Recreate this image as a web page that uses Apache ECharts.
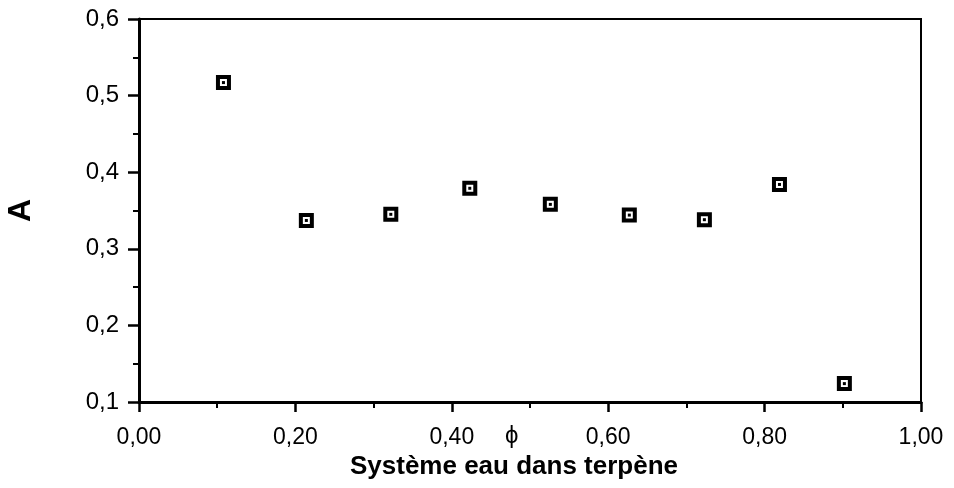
<!DOCTYPE html>
<html>
<head>
<meta charset="utf-8">
<script src="https://cdn.jsdelivr.net/npm/echarts@6/dist/echarts.min.js"></script>
<style>
  html, body { margin: 0; padding: 0; background: #fff; }
  #chart { width: 954px; height: 488px; }
</style>
</head>
<body>
<div id="chart"></div>
<script>
// phi (water fraction) and A values
var phiValues = [0.108, 0.214, 0.322, 0.423, 0.526, 0.627, 0.723, 0.819, 0.902];
var aValues = [0.517, 0.337, 0.345, 0.379, 0.358, 0.344, 0.338, 0.384, 0.124];
var xTitle = 'Système eau dans terpène';
var yTitle = 'A';

var points = phiValues.map(function (x, i) { return [x, aValues[i]]; });

var mychart = echarts.init(document.getElementById('chart'));
var font = 'Liberation Sans';

var option = {
  animation: false,
  grid: {
    left: 139, right: 33, top: 19, bottom: 86,
    outerBoundsMode: 'none', containLabel: false,
    show: true, borderColor: '#000', borderWidth: 2
  },
  xAxis: {
    type: 'value', min: 0, max: 1, interval: 0.2,
    name: xTitle, nameLocation: 'middle', nameGap: 40,
    nameTextStyle: {
      fontFamily: font, fontWeight: 'bold', fontSize: 26, color: '#000',
      padding: [0, 32, 0, 0]
    },
    axisLine: { lineStyle: { color: '#000', width: 3 } },
    axisTick: { length: 10, lineStyle: { color: '#000', width: 2.5 } },
    minorTick: { show: true, splitNumber: 2, length: 6, lineStyle: { color: '#000', width: 2 } },
    splitLine: { show: false },
    axisLabel: {
      margin: 24, fontFamily: font, fontSize: 23, color: '#000',
      formatter: function (v) { return v.toFixed(2).replace('.', ','); }
    }
  },
  yAxis: {
    type: 'value', min: 0.1, max: 0.6, interval: 0.1,
    name: yTitle, nameLocation: 'middle', nameRotate: 90, nameGap: 102,
    nameTextStyle: { fontFamily: font, fontWeight: 'bold', fontSize: 32, color: '#000' },
    axisLine: { lineStyle: { color: '#000', width: 3 } },
    axisTick: { length: 11, lineStyle: { color: '#000', width: 2.5 } },
    minorTick: { show: true, splitNumber: 2, length: 6, lineStyle: { color: '#000', width: 2 } },
    splitLine: { show: false },
    axisLabel: {
      margin: 20, fontFamily: font, fontSize: 24, color: '#000',
      formatter: function (v) { return v.toFixed(1).replace('.', ','); }
    }
  },
  graphic: [{
    type: 'text', left: 505, top: 424,
    style: { text: 'ϕ', font: '24px "Liberation Sans"', fill: '#000' }
  }],
  series: [
    {
      type: 'scatter', data: points, symbol: 'rect', symbolSize: 11,
      itemStyle: { color: '#fff', borderColor: '#000', borderWidth: 4, opacity: 1 }
    },
    {
      type: 'scatter', data: points, symbol: 'rect', symbolSize: 3,
      itemStyle: { color: '#000', opacity: 1 }
    }
  ]
};

mychart.setOption(option);
</script>
</body>
</html>
